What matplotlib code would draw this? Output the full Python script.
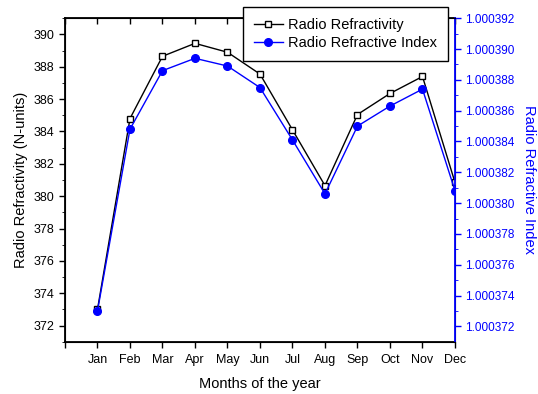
import matplotlib
matplotlib.use('Agg')
import matplotlib.pyplot as plt
from matplotlib.ticker import MultipleLocator, FormatStrFormatter, FixedLocator

plt.rcParams['font.family'] = ['Liberation Sans', 'DejaVu Sans']

months = ['Jan', 'Feb', 'Mar', 'Apr', 'May', 'Jun', 'Jul', 'Aug', 'Sep', 'Oct', 'Nov', 'Dec']
refractivity = [373.0, 384.8, 388.65, 389.45, 388.9, 387.55, 384.1, 380.65, 385.05, 386.35, 387.4, 380.85]
refr_index = [1.000373, 1.0003848, 1.0003886, 1.0003894, 1.0003889, 1.0003875,
              1.0003841, 1.0003806, 1.0003850, 1.0003863, 1.0003874, 1.0003808]

blue = '#0000ff'
x = list(range(1, len(months) + 1))

fig = plt.figure(figsize=(5.38, 3.94), dpi=100)
ax = fig.add_axes([0.1208, 0.1327, 0.7249, 0.8209])
ax2 = ax.twinx()

l1, = ax.plot(x, refractivity, color='black', marker='s', markersize=4.5,
              markerfacecolor='white', markeredgecolor='black', linewidth=1, zorder=3)
l2, = ax2.plot(x, refr_index, color=blue, marker='o', markersize=5.5,
               markerfacecolor=blue, markeredgecolor=blue, linewidth=1, zorder=3)

ax.set_xlim(0, 12)
ax.set_xticks(range(0, 13))
ax.set_xticklabels([''] + months, fontsize=9)
ax.set_ylim(371, 391)
ax.yaxis.set_major_locator(MultipleLocator(2))
ax.yaxis.set_minor_locator(MultipleLocator(1))
ax.tick_params(axis='y', which='major', labelsize=9, length=4, width=1, direction='out')
ax.tick_params(axis='y', which='minor', length=2.5, direction='out')
ax.tick_params(axis='x', which='major', length=4, width=1, direction='out', pad=5, top=False)
# top ticks pointing inward
secx = ax.secondary_xaxis('top')
secx.set_xticks(range(0, 13))
secx.set_xticklabels([])
secx.tick_params(direction='in', length=4, width=1)
secx.spines['top'].set_visible(False)

ax2.set_ylim(1.000371, 1.000392)
ax2.yaxis.set_major_locator(FixedLocator([1.000372 + i * 0.000002 for i in range(11)]))
ax2.yaxis.set_minor_locator(FixedLocator([1.000373 + i * 0.000002 for i in range(10)]))
ax2.yaxis.set_major_formatter(FormatStrFormatter('%.6f'))
ax2.tick_params(axis='y', which='major', labelsize=8.5, length=4, width=1, colors=blue, direction='out')
ax2.tick_params(axis='y', which='minor', length=2.5, colors=blue, direction='out')
ax2.spines['right'].set_color(blue)
ax2.spines['right'].set_linewidth(1.3)

for sp in ['left', 'bottom', 'top']:
    ax.spines[sp].set_linewidth(1.3)

ax.set_xlabel('Months of the year', fontsize=10.5, labelpad=8)
ax.set_ylabel('Radio Refractivity (N-units)', fontsize=10.5, labelpad=4)
ax2.set_ylabel('Radio Refractive Index', fontsize=10.5, color=blue, rotation=270,
               va='bottom', labelpad=5)

leg = ax2.legend([l1, l2], ['Radio Refractivity', 'Radio Refractive Index'],
                 loc='upper left', bbox_to_anchor=(0.456, 1.035), fontsize=10.5,
                 frameon=True, fancybox=False, edgecolor='black', framealpha=1,
                 handlelength=2.0, handletextpad=0.35, borderpad=0.75, labelspacing=0.3,
                 borderaxespad=0)
leg.get_frame().set_linewidth(1.0)

fig.savefig('out.png', dpi=100)
